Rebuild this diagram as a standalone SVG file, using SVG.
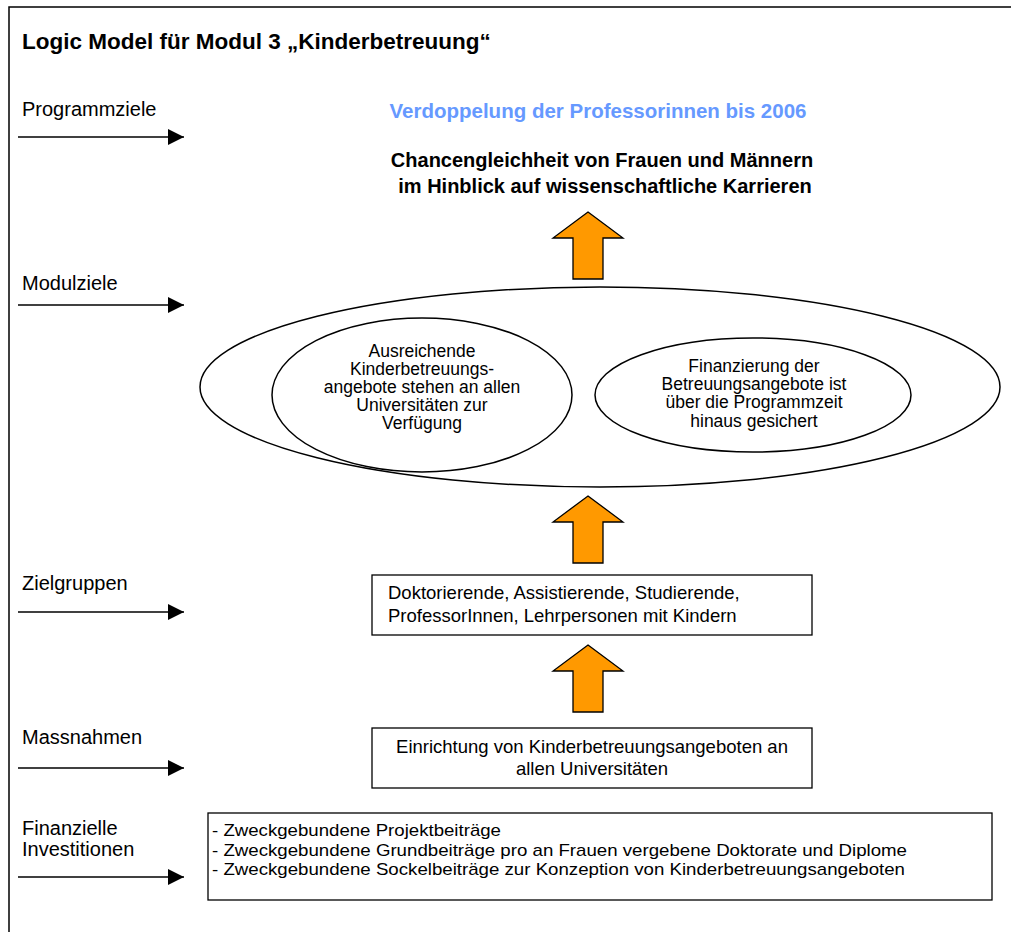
<svg xmlns="http://www.w3.org/2000/svg" width="1011" height="932" viewBox="0 0 1011 932">
<style>
text{font-family:"Liberation Sans",Arial,sans-serif;fill:#000}
.title{font-size:22.5px;font-weight:bold}
.lbl{font-size:20px}
.blue{font-size:20.5px;font-weight:bold;fill:#6699FF}
.goal{font-size:20px;font-weight:bold}
.ell{font-size:17.5px}
.box{font-size:18.5px}
.fin{font-size:17px}
.node{fill:#fff;stroke:#000;stroke-width:1.3}
.ring{fill:none;stroke:#000;stroke-width:1.5}
.line{stroke:#000;stroke-width:1.5;fill:none}
.up{fill:#FF9900;stroke:#000;stroke-width:1.3;stroke-linejoin:miter}
</style>
<defs>
<marker id="ah" markerWidth="16" markerHeight="16" refX="16" refY="8" orient="auto" markerUnits="userSpaceOnUse">
<path d="M0,0 L16,8 L0,16 Z" fill="#000"/>
</marker>
<path id="uparrow" d="M0,0 L35,26 L15,26 L15,67 L-15,67 L-15,26 L-35,26 Z"/>
</defs>
<rect x="9" y="7" width="1100" height="1000" fill="#fff" stroke="#000" stroke-width="1.5"/>
<text class="title" x="22" y="49">Logic Model für Modul 3 „Kinderbetreuung“</text>

<g id="labels">
<text class="lbl" x="22" y="116">Programmziele</text>
<text class="lbl" x="22" y="290">Modulziele</text>
<text class="lbl" x="22" y="590">Zielgruppen</text>
<text class="lbl" x="22" y="744">Massnahmen</text>
<text class="lbl" x="22" y="835">Finanzielle</text>
<text class="lbl" x="22" y="856">Investitionen</text>
</g>

<g id="connectors">
<line class="line" x1="18" y1="137" x2="184" y2="137" marker-end="url(#ah)"/>
<line class="line" x1="18" y1="305" x2="184" y2="305" marker-end="url(#ah)"/>
<line class="line" x1="18" y1="612" x2="184" y2="612" marker-end="url(#ah)"/>
<line class="line" x1="18" y1="768" x2="184" y2="768" marker-end="url(#ah)"/>
<line class="line" x1="18" y1="877" x2="184" y2="877" marker-end="url(#ah)"/>
<use href="#uparrow" class="up" x="588" y="212"/>
<use href="#uparrow" class="up" x="588" y="496"/>
<use href="#uparrow" class="up" x="588" y="645"/>
</g>

<g id="programmziele">
<text class="blue" x="598" y="118" text-anchor="middle">Verdoppelung der Professorinnen bis 2006</text>
<text class="goal" x="602" y="167" text-anchor="middle">Chancengleichheit von Frauen und Männern</text>
<text class="goal" x="605" y="193" text-anchor="middle">im Hinblick auf wissenschaftliche Karrieren</text>
</g>

<g id="modulziele">
<ellipse class="ring" cx="600" cy="387" rx="400" ry="100"/>
</g>

<g id="modulziel-angebote">
<ellipse class="ring" cx="422" cy="395" rx="150" ry="77"/>
<text class="ell" text-anchor="middle" x="422" y="357">Ausreichende</text>
<text class="ell" text-anchor="middle" x="422" y="375">Kinderbetreuungs-</text>
<text class="ell" text-anchor="middle" x="422" y="393">angebote stehen an allen</text>
<text class="ell" text-anchor="middle" x="422" y="411">Universitäten zur</text>
<text class="ell" text-anchor="middle" x="422" y="429">Verfügung</text>
</g>

<g id="modulziel-finanzierung">
<ellipse class="ring" cx="753" cy="395" rx="158" ry="57"/>
<text class="ell" text-anchor="middle" x="754" y="372">Finanzierung der</text>
<text class="ell" text-anchor="middle" x="754" y="390">Betreuungsangebote ist</text>
<text class="ell" text-anchor="middle" x="754" y="408">über die Programmzeit</text>
<text class="ell" text-anchor="middle" x="754" y="427">hinaus gesichert</text>
</g>

<g id="zielgruppen">
<rect class="node" x="372" y="575" width="440" height="60"/>
<text class="box" x="388" y="599">Doktorierende, Assistierende, Studierende,</text>
<text class="box" x="388" y="622">ProfessorInnen, Lehrpersonen mit Kindern</text>
</g>

<g id="massnahmen">
<rect class="node" x="372" y="728" width="440" height="60"/>
<text class="box" x="592" y="753" text-anchor="middle">Einrichtung von Kinderbetreuungsangeboten an</text>
<text class="box" x="592" y="775" text-anchor="middle">allen Universitäten</text>
</g>

<g id="investitionen">
<rect class="node" x="208" y="813" width="784" height="87"/>
<text class="fin" x="212" y="836" textLength="289" lengthAdjust="spacingAndGlyphs">- Zweckgebundene Projektbeiträge</text>
<text class="fin" x="212" y="856" textLength="695" lengthAdjust="spacingAndGlyphs">- Zweckgebundene Grundbeiträge pro an Frauen vergebene Doktorate und Diplome</text>
<text class="fin" x="212" y="875" textLength="693" lengthAdjust="spacingAndGlyphs">- Zweckgebundene Sockelbeiträge zur Konzeption von Kinderbetreuungsangeboten</text>
</g>
</svg>
